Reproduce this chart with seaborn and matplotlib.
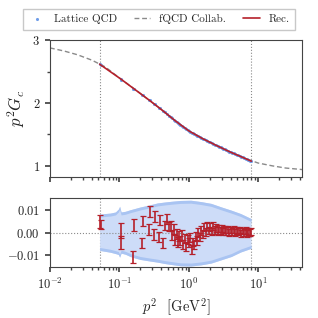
import matplotlib

matplotlib.use("Agg")
import matplotlib.pyplot as plt
import numpy as np
import pandas as pd
import seaborn as sns
from matplotlib.ticker import FixedLocator, LogLocator, NullFormatter

# fQCD Collab. curve (full momentum range)
fqcd_p2 = [0.01, 0.016, 0.025, 0.04, 0.063, 0.1, 0.16, 0.25, 0.4, 0.63,
           1.0, 1.6, 2.5, 4.0, 6.3, 10.0, 16.0, 25.0, 43.0]
fqcd_G = [2.88, 2.83, 2.77, 2.685, 2.575, 2.40, 2.235, 2.07, 1.90, 1.72,
          1.555, 1.43, 1.32, 1.215, 1.12, 1.04, 0.995, 0.96, 0.936]

# lattice momenta, reconstruction at those momenta, residuals and errors
lat_p2 = [0.052, 0.054, 0.104, 0.107, 0.158, 0.165, 0.21, 0.22, 0.265, 0.275,
          0.315, 0.33, 0.37, 0.38, 0.42, 0.45, 0.49, 0.52, 0.55,
          0.58, 0.61, 0.64, 0.67, 0.70, 0.73, 0.76, 0.80, 0.84, 0.88,
          0.92, 0.96, 1.00, 1.05, 1.10, 1.15, 1.20, 1.26, 1.32, 1.38,
          1.45, 1.52, 1.60, 1.68, 1.76, 1.85, 1.94, 2.04, 2.14, 2.25,
          2.36, 2.48, 2.60, 2.73, 2.87, 3.01, 3.16, 3.32, 3.49, 3.66,
          3.85, 4.04, 4.24, 4.45, 4.67, 4.91, 5.15, 5.41, 5.68, 5.97,
          6.27, 6.58, 6.91, 7.26, 7.62, 8.0]
rec_G = [2.620, 2.607, 2.386, 2.376, 2.236, 2.221, 2.135, 2.118, 2.051, 2.038,
         1.987, 1.969, 1.927, 1.917, 1.879, 1.852, 1.819, 1.796, 1.774,
         1.753, 1.734, 1.715, 1.699, 1.683, 1.668, 1.653, 1.635, 1.618, 1.601,
         1.585, 1.570, 1.555, 1.542, 1.529, 1.517, 1.506, 1.493, 1.479, 1.468,
         1.454, 1.441, 1.428, 1.416, 1.405, 1.393, 1.382, 1.370, 1.359, 1.346,
         1.335, 1.323, 1.312, 1.301, 1.290, 1.279, 1.268, 1.256, 1.245, 1.234,
         1.223, 1.212, 1.202, 1.192, 1.182, 1.172, 1.162, 1.152, 1.142, 1.131,
         1.121, 1.111, 1.101, 1.090, 1.080, 1.070]
residual = [0.0050, 0.0038, 0.0010, -0.0044, -0.0107, 0.0034, -0.0045, 0.0052, 0.0016, 0.0094,
            -0.0006, 0.0072, -0.0018, 0.0056, -0.0044, 0.0032, 0.0061, 0.0028, 0.0030,
            -0.0010, 0.0015, -0.0030, -0.0005, -0.0040, -0.0015, -0.0035, -0.0010, -0.0050, -0.0025,
            -0.0060, -0.0030, -0.0045, -0.0020, -0.0075, -0.0040, -0.0055, -0.0015, -0.0035, 0.0000,
            -0.0020, 0.0010, -0.0005, 0.0025, 0.0005, 0.0030, 0.0010, 0.0025, 0.0005, 0.0030,
            0.0012, 0.0022, 0.0008, 0.0020, 0.0010, 0.0018, 0.0005, 0.0015, 0.0008, 0.0016,
            0.0002, 0.0012, 0.0006, 0.0014, 0.0000, 0.0010, 0.0004, 0.0012, -0.0002, 0.0008,
            0.0002, 0.0010, -0.0004, 0.0006, 0.0000, 0.0005]
res_err = [0.0030, 0.0020, 0.0033, 0.0028, 0.0027, 0.0026, 0.0024, 0.0024, 0.0024, 0.0023,
           0.0024, 0.0023, 0.0022, 0.0022, 0.0022, 0.0020, 0.0020, 0.0020, 0.0020,
           0.0022, 0.0022, 0.0022, 0.0021, 0.0021, 0.0021, 0.0021, 0.0021, 0.0020, 0.0020,
           0.0020, 0.0020, 0.0020, 0.0020, 0.0020, 0.0019, 0.0019, 0.0019, 0.0019, 0.0019,
           0.0018, 0.0018, 0.0018, 0.0018, 0.0018, 0.0018, 0.0017, 0.0017, 0.0017, 0.0017,
           0.0017, 0.0017, 0.0016, 0.0016, 0.0016, 0.0016, 0.0016, 0.0016, 0.0016, 0.0016,
           0.0015, 0.0015, 0.0015, 0.0015, 0.0015, 0.0015, 0.0015, 0.0015, 0.0015, 0.0015,
           0.0015, 0.0015, 0.0015, 0.0015, 0.0015, 0.0015]

# lattice error band in the residual panel
band_p2 = [0.052, 0.062, 0.074, 0.088, 0.097, 0.101, 0.106, 0.122, 0.144, 0.17,
           0.2, 0.263, 0.355, 0.45, 0.55, 0.76, 1.07, 1.5, 2.1, 2.9, 4.1, 5.6, 7.9]
band_hi = [0.0082, 0.0085, 0.0087, 0.0092, 0.0105, 0.0117, 0.0092, 0.0095, 0.0102, 0.0108,
           0.0114, 0.0122, 0.0132, 0.0136, 0.0139, 0.0143, 0.0144, 0.0138, 0.0130, 0.0115,
           0.0100, 0.0085, 0.0063]
band_lo = [-0.0078, -0.0082, -0.0086, -0.0092, -0.0096, -0.0108, -0.0090, -0.0095, -0.0105, -0.0112,
           -0.0118, -0.0124, -0.0130, -0.0136, -0.0140, -0.0146, -0.0147, -0.0142, -0.0134, -0.0120,
           -0.0105, -0.0085, -0.0069]

RED = "#b5202a"
BLUE = "#6f9de9"
GREY = "#8a8a8a"

sns.set_theme(style="ticks")
plt.rcParams.update({
    "font.family": "serif",
    "font.serif": ["cmr10", "DejaVu Serif"],
    "mathtext.fontset": "cm",
    "axes.formatter.use_mathtext": True,
    "axes.edgecolor": "#444444",
    "axes.linewidth": 0.8,
    "xtick.color": "#444444",
    "ytick.color": "#444444",
    "xtick.labelcolor": "#222222",
    "ytick.labelcolor": "#222222",
    "xtick.major.size": 3.5,
    "ytick.major.size": 3.5,
    "xtick.minor.size": 2,
    "ytick.minor.size": 2,
    "xtick.labelsize": 9,
    "ytick.labelsize": 9,
})

fqcd = pd.DataFrame({"p2": fqcd_p2, "G": fqcd_G})
lat = pd.DataFrame({"p2": lat_p2, "rec": rec_G, "res": residual, "err": res_err})
lat["G"] = lat["rec"] + lat["res"]
band = pd.DataFrame({"p2": band_p2, "hi": band_hi, "lo": band_lo})

fig = plt.figure(figsize=(3.18, 3.18), dpi=100)
ax = fig.add_axes([0.157, 0.444, 0.793, 0.429])
axr = fig.add_axes([0.157, 0.160, 0.793, 0.216])

sns.lineplot(data=fqcd, x="p2", y="G", ax=ax, color=GREY, lw=1.0,
             linestyle=(0, (3.5, 2)), label="fQCD Collab.", zorder=2)
ax.scatter(lat["p2"], lat["G"], s=5, color=BLUE, lw=0, zorder=3, label="Lattice QCD")
sns.lineplot(data=lat, x="p2", y="rec", ax=ax, color=RED, lw=1.2, label="Rec.", zorder=4)

for a in (ax, axr):
    a.set_xscale("log")
    a.set_xlim(0.01, 43)
    a.axvline(lat_p2[0], color=GREY, lw=0.8, ls=":", zorder=1)
    a.axvline(lat_p2[-1], color=GREY, lw=0.8, ls=":", zorder=1)
    a.xaxis.set_minor_locator(LogLocator(base=10, subs=np.arange(2, 10)))
    a.xaxis.set_minor_formatter(NullFormatter())

ax.set_ylim(0.82, 3.0)
ax.yaxis.set_major_locator(FixedLocator([1, 2, 3]))
ax.yaxis.set_minor_locator(FixedLocator([1.5, 2.5]))
ax.set_xticklabels([])
ax.set_xlabel("")
ax.set_ylabel("$p^2G_c$", fontsize=12, labelpad=4)

# residual panel
axr.fill_between(band["p2"], band["lo"], band["hi"], color="#cddcf8", lw=0, zorder=1)
axr.fill_between(band["p2"], band["hi"] - 0.0013, band["hi"], color="#a9c4f2", lw=0, zorder=1)
axr.fill_between(band["p2"], band["lo"], band["lo"] + 0.0013, color="#a9c4f2", lw=0, zorder=1)
axr.axhline(0, color=GREY, lw=0.8, ls=":", zorder=2)
axr.errorbar(lat["p2"], lat["res"], yerr=lat["err"], fmt="none", ecolor=RED,
             elinewidth=1.2, capsize=2, capthick=0.9, zorder=3)
axr.set_ylim(-0.0152, 0.0152)
axr.yaxis.set_major_locator(FixedLocator([-0.01, 0.0, 0.01]))
axr.set_yticklabels(["$-0.01$", "$0.00$", "$0.01$"])
axr.set_xlabel(r"$p^2$  [GeV$^2$]", fontsize=10.5, labelpad=3)
axr.set_ylabel("")

if ax.legend_:
    ax.legend_.remove()
handles, labels = ax.get_legend_handles_labels()
order = [labels.index(n) for n in ["Lattice QCD", "fQCD Collab.", "Rec."]]
fig.legend([handles[i] for i in order], [labels[i] for i in order],
           loc="upper center", bbox_to_anchor=(0.5, 0.99), ncol=3, fontsize=8,
           frameon=True, fancybox=False, edgecolor="#bbbbbb", handlelength=1.5,
           columnspacing=1.5, handletextpad=0.8, borderpad=0.5)

fig.savefig("out.png", dpi=100)
